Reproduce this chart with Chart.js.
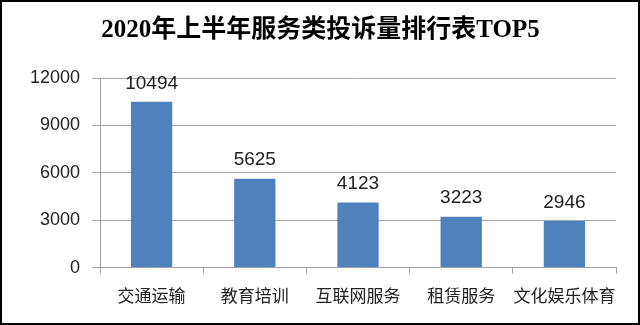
<!DOCTYPE html>
<html>
<head>
<meta charset="utf-8">
<script src="https://cdn.jsdelivr.net/npm/chart.js@4/dist/chart.umd.min.js"></script>
<style>
  html, body { margin: 0; padding: 0; background: #fff; }
  #wrap { width: 640px; height: 325px; box-sizing: border-box; border: 2px solid #000; position: relative; }
  #Mycharts { display: block; }
</style>
</head>
<body>
<div id="wrap"><canvas id="Mycharts" width="636" height="321"></canvas></div>
<script>
var titleText = "2020年上半年服务类投诉量排行表TOP5";
var categories = ["交通运输", "教育培训", "互联网服务", "租赁服务", "文化娱乐体育"];
var complaints = [10494, 5625, 4123, 3223, 2946];
var yTicks = [0, 3000, 6000, 9000, 12000];

// draw the number over each bar
var valueLabels = {
  id: 'valueLabels',
  afterDatasetsDraw: function (chart) {
    var ctx = chart.ctx;
    var meta = chart.getDatasetMeta(0);
    ctx.save();
    ctx.font = '19px "Liberation Sans", Arial, sans-serif';
    ctx.fillStyle = '#222';
    ctx.textAlign = 'center';
    ctx.textBaseline = 'bottom';
    meta.data.forEach(function (bar, i) {
      ctx.fillText(chart.data.datasets[0].data[i], bar.x, bar.y - 9);
    });
    ctx.restore();
  }
};

var ctx = document.getElementById('Mycharts').getContext('2d');
var Mycharts = new Chart(ctx, {
  type: 'bar',
  data: {
    labels: categories,
    datasets: [{
      label: "投诉量",
      data: complaints,
      backgroundColor: "#4f81bd",
      borderWidth: 0,
      categoryPercentage: 0.8,
      barPercentage: 0.5
    }]
  },
  options: {
    responsive: false,
    animation: false,
    layout: { padding: { top: 6, right: 22, bottom: 5, left: 23 } },
    plugins: {
      legend: { display: false },
      tooltip: { enabled: false },
      title: {
        display: true,
        text: titleText,
        color: '#000',
        font: { family: '"Liberation Serif", "Noto Sans CJK SC", serif', size: 25, weight: 'bold' },
        padding: { top: 8, bottom: 32 }
      }
    },
    scales: {
      x: {
        offset: true,
        grid: { offset: true, drawOnChartArea: false, tickLength: 6, color: '#a0a0a0' },
        border: { color: '#a0a0a0' },
        ticks: {
          color: '#222',
          padding: 12,
          maxRotation: 0,
          minRotation: 0,
          autoSkip: false,
          font: { family: '"Noto Sans CJK SC", sans-serif', size: 17 }
        }
      },
      y: {
        min: 0,
        max: 12000,
        afterBuildTicks: function (scale) {
          scale.ticks = yTicks.map(function (v) { return { value: v }; });
        },
        afterFit: function (scale) { scale.width = 75; },
        grid: { color: '#a8a8a8', tickLength: 8 },
        border: { color: '#a0a0a0' },
        ticks: {
          color: '#222',
          padding: 12,
          font: { family: '"Liberation Sans", Arial, sans-serif', size: 18 },
          callback: function (v) { return String(v); }
        }
      }
    }
  },
  plugins: [valueLabels]
});
</script>
</body>
</html>
